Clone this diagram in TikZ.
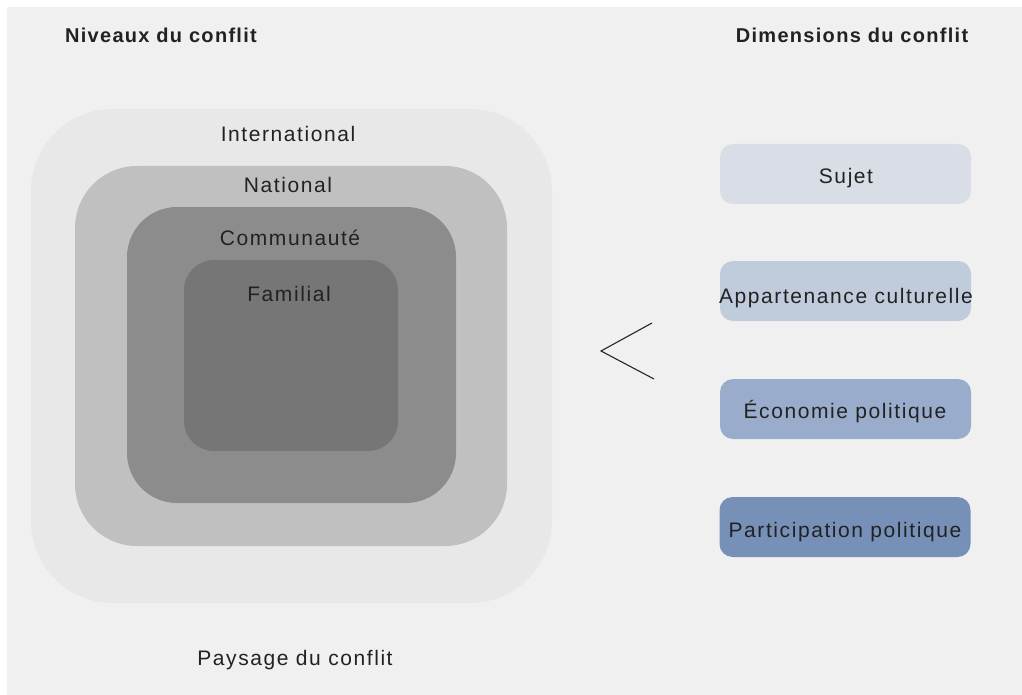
\documentclass[tikz,border=0pt]{standalone}
\usepackage{fontspec}
\setmainfont{Liberation Sans}
\newfontfamily\lbl[LetterSpace=7.5]{Liberation Sans}
\newfontfamily\ttl[LetterSpace=6.5,Ligatures=NoCommon]{Liberation Sans}
\definecolor{bg}{HTML}{F0F0F0}
\definecolor{lvA}{HTML}{E8E8E8}
\definecolor{lvB}{HTML}{C0C0C0}
\definecolor{lvC}{HTML}{8C8C8C}
\definecolor{lvD}{HTML}{767676}
\definecolor{dmA}{HTML}{D9DDE6}
\definecolor{dmB}{HTML}{C0CBDC}
\definecolor{dmC}{HTML}{9AACCB}
\definecolor{dmD}{HTML}{7790B8}
\definecolor{txt}{HTML}{222222}
\begin{document}
\begin{tikzpicture}[x=1pt,y=-1pt,
  level/.style={inner sep=0pt,rounded corners=#1},
  dimbox/.style={inner sep=0pt,minimum width=251pt,minimum height=60pt,rounded corners=13pt},
  lab/.style={anchor=base,inner sep=0pt,text=txt,font=\lbl\fontsize{21}{24}\selectfont},
  title/.style={anchor=base,inner sep=0pt,text=txt,font=\ttl\bfseries\fontsize{20}{23}\selectfont},
  chev/.style={draw=black!85,line width=1.1pt}]
\useasboundingbox (0,0) rectangle (1022,695);
\fill[white] (0,0) rectangle (1022,695);
\fill[bg] (7,7) rectangle (1022,695);
% levels
\node[level=82pt,fill=lvA,minimum width=521pt,minimum height=494pt] (intl) at (291.5,356) {};
\node[level=62pt,fill=lvB,minimum width=432pt,minimum height=380pt] (natl) at (291,356) {};
\node[level=50pt,fill=lvC,minimum width=329pt,minimum height=296pt] (comm) at (291.5,355) {};
\node[level=30pt,fill=lvD,minimum width=214pt,minimum height=191pt] (fam) at (291,355.5) {};
\node[lab] (tintl) at (288,141.5) {International};
\node[lab] (tnatl) at (288,193) {National};
\node[lab] (tcomm) at (290,245) {Communauté};
\node[lab] (tfam) at (289,301) {Familial};
\node[lab] (pays) at (295,665) {Paysage du conflit};
% titles
\node[title] (t1) at (161,43) {Niveaux du conflit};
\node[title] (t2) at (852,43) {Dimensions du conflit};
% dimensions
\node[dimbox,fill=dmA] (d1) at (845.5,174) {};
\node[dimbox,fill=dmB] (d2) at (845.5,291) {};
\node[dimbox,fill=dmC] (d3) at (845.5,409) {};
\node[dimbox,fill=dmD] (d4) at (845,527) {};
\node[lab] (l1) at (846,183) {Sujet};
\node[lab] (l2) at (846,303) {Appartenance culturelle};
\node[lab] (l3) at (845,418) {Économie politique};
\node[lab] (l4) at (845,537) {Participation politique};
% chevron
\coordinate (c1) at (652,323);
\coordinate (c2) at (601,351);
\coordinate (c3) at (654,379);
\draw[chev] (c1) -- (c2) -- (c3);
\end{tikzpicture}
\end{document}
